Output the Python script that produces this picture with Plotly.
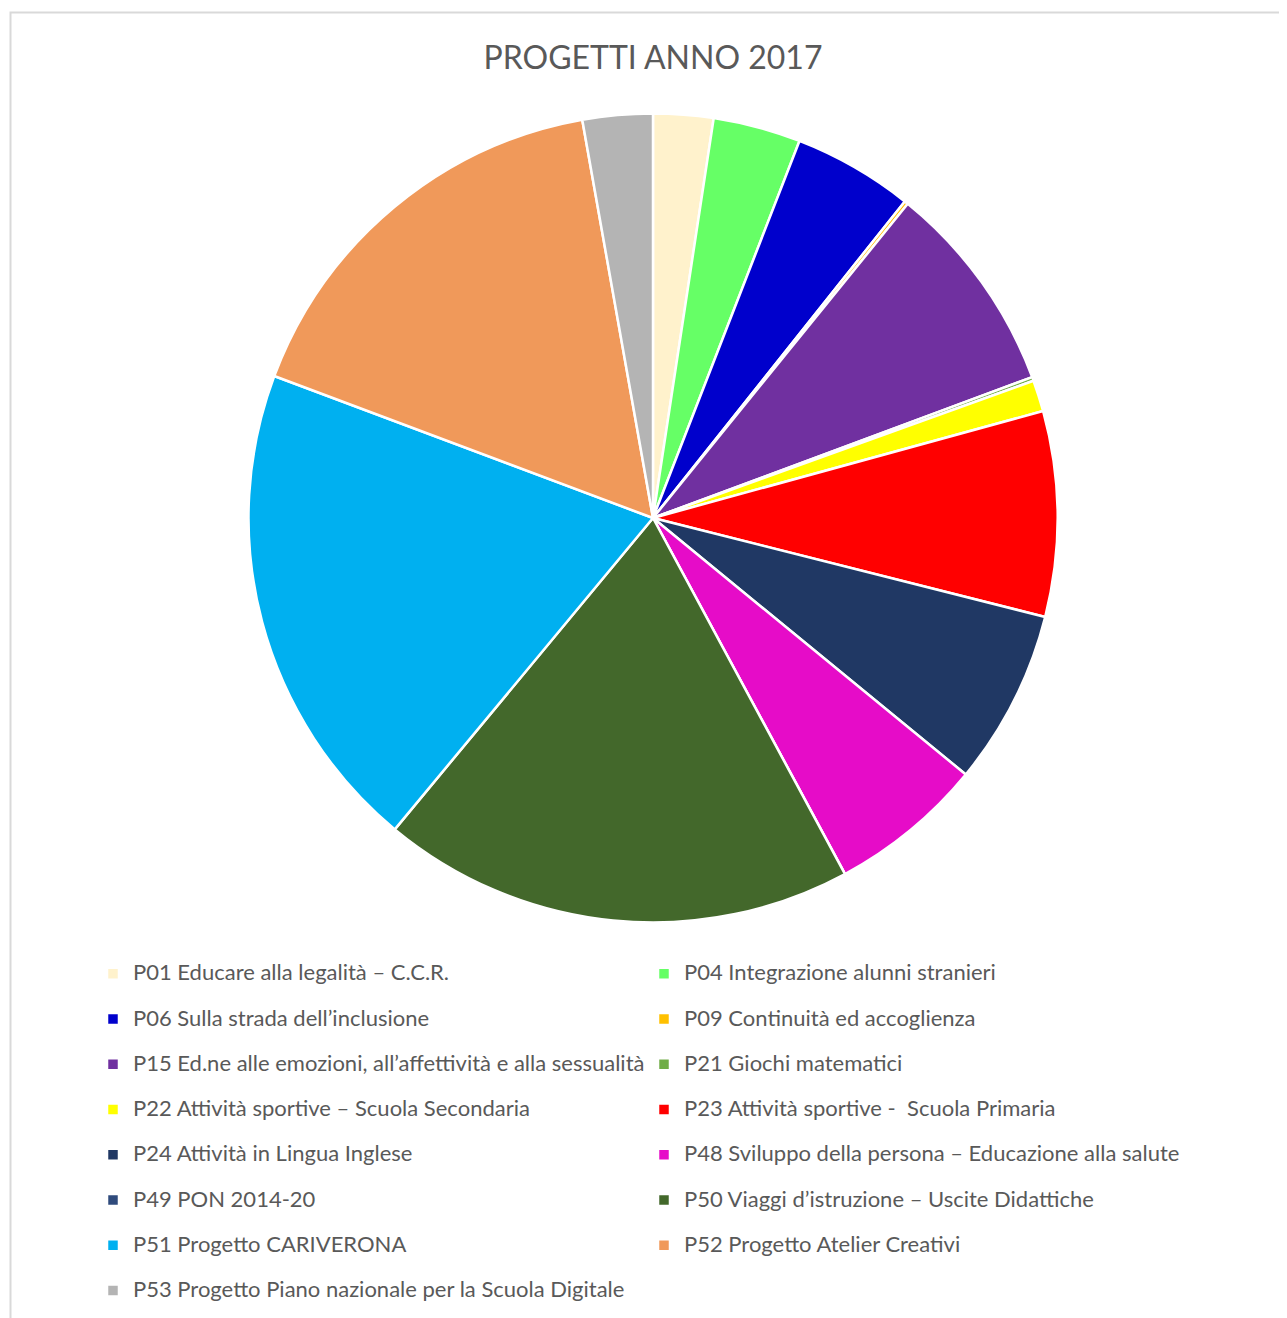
import plotly.graph_objects as go

labels = [
    "P01 Educare alla legalità – C.C.R.",
    "P04 Integrazione alunni stranieri",
    "P06 Sulla strada dell’inclusione",
    "P09 Continuità ed accoglienza",
    "P15 Ed.ne alle emozioni, all’affettività e alla sessualità",
    "P21 Giochi matematici",
    "P22 Attività sportive – Scuola Secondaria",
    "P23 Attività sportive -  Scuola Primaria",
    "P24 Attività in Lingua Inglese",
    "P48 Sviluppo della persona – Educazione alla salute",
    "P49 PON 2014-20",
    "P50 Viaggi d’istruzione – Uscite Didattiche",
    "P51 Progetto CARIVERONA",
    "P52 Progetto Atelier Creativi",
    "P53 Progetto Piano nazionale per la Scuola Digitale",
]
values = [2.4, 3.5, 4.8, 0.15, 8.5, 0.15, 1.25, 8.2, 7.0, 6.2, 0.0, 18.9, 19.7, 16.5, 2.8]
colors = ["#FFF2CC", "#66FF66", "#0000CC", "#FFC000", "#7030A0", "#70AD47",
          "#FFFF00", "#FF0000", "#203864", "#E60CC8", "#2F4B7C", "#43682B",
          "#00B0F0", "#F0995A", "#B4B4B4"]

OFF = 8  # page body margin
W, H = 1287 - OFF, 1318 - OFF
cx, cy, r = 653 - OFF, 518 - OFF, 404.5

legend_labels = [f'<span style="font-size:22px;baseline-shift:6px">{t}</span>' for t in labels]

fig = go.Figure(go.Pie(
    labels=legend_labels,
    values=values,
    sort=False,
    direction="clockwise",
    rotation=0,
    textinfo="none",
    hoverinfo="label+percent",
    marker=dict(colors=colors, line=dict(color="white", width=2.5)),
    domain=dict(x=[(cx - r) / W, (cx + r) / W], y=[1 - (cy + r) / H, 1 - (cy - r) / H]),
))

fig.update_layout(
    width=W, height=H,
    margin=dict(l=0, r=0, t=0, b=0),
    paper_bgcolor="white",
    font=dict(family="Lato, Open Sans, sans-serif", color="#595959"),
    title=dict(text="PROGETTI ANNO 2017", x=(653 - OFF) / W, xanchor="center", y=1 - (58 - OFF) / H,
               yanchor="middle",
               font=dict(size=32, color="#595959", family="Lato, Open Sans, sans-serif")),
    showlegend=True,
    legend=dict(orientation="h", x=(93 - OFF) / W, xanchor="left", y=1 - (946 - OFF) / H, yanchor="top",
                entrywidth=506, entrywidthmode="pixels", traceorder="normal",
                font=dict(size=32.5, color="#595959"), bgcolor="rgba(0,0,0,0)"),
    shapes=[dict(type="rect", xref="paper", yref="paper", x0=(10.5 - OFF) / W, x1=1.01, y0=-0.01,
                 y1=1 - (12.5 - OFF) / H,
                 line=dict(color="#D9D9D9", width=2), fillcolor="rgba(0,0,0,0)", layer="below")],
)

fig.write_html("out.html")
